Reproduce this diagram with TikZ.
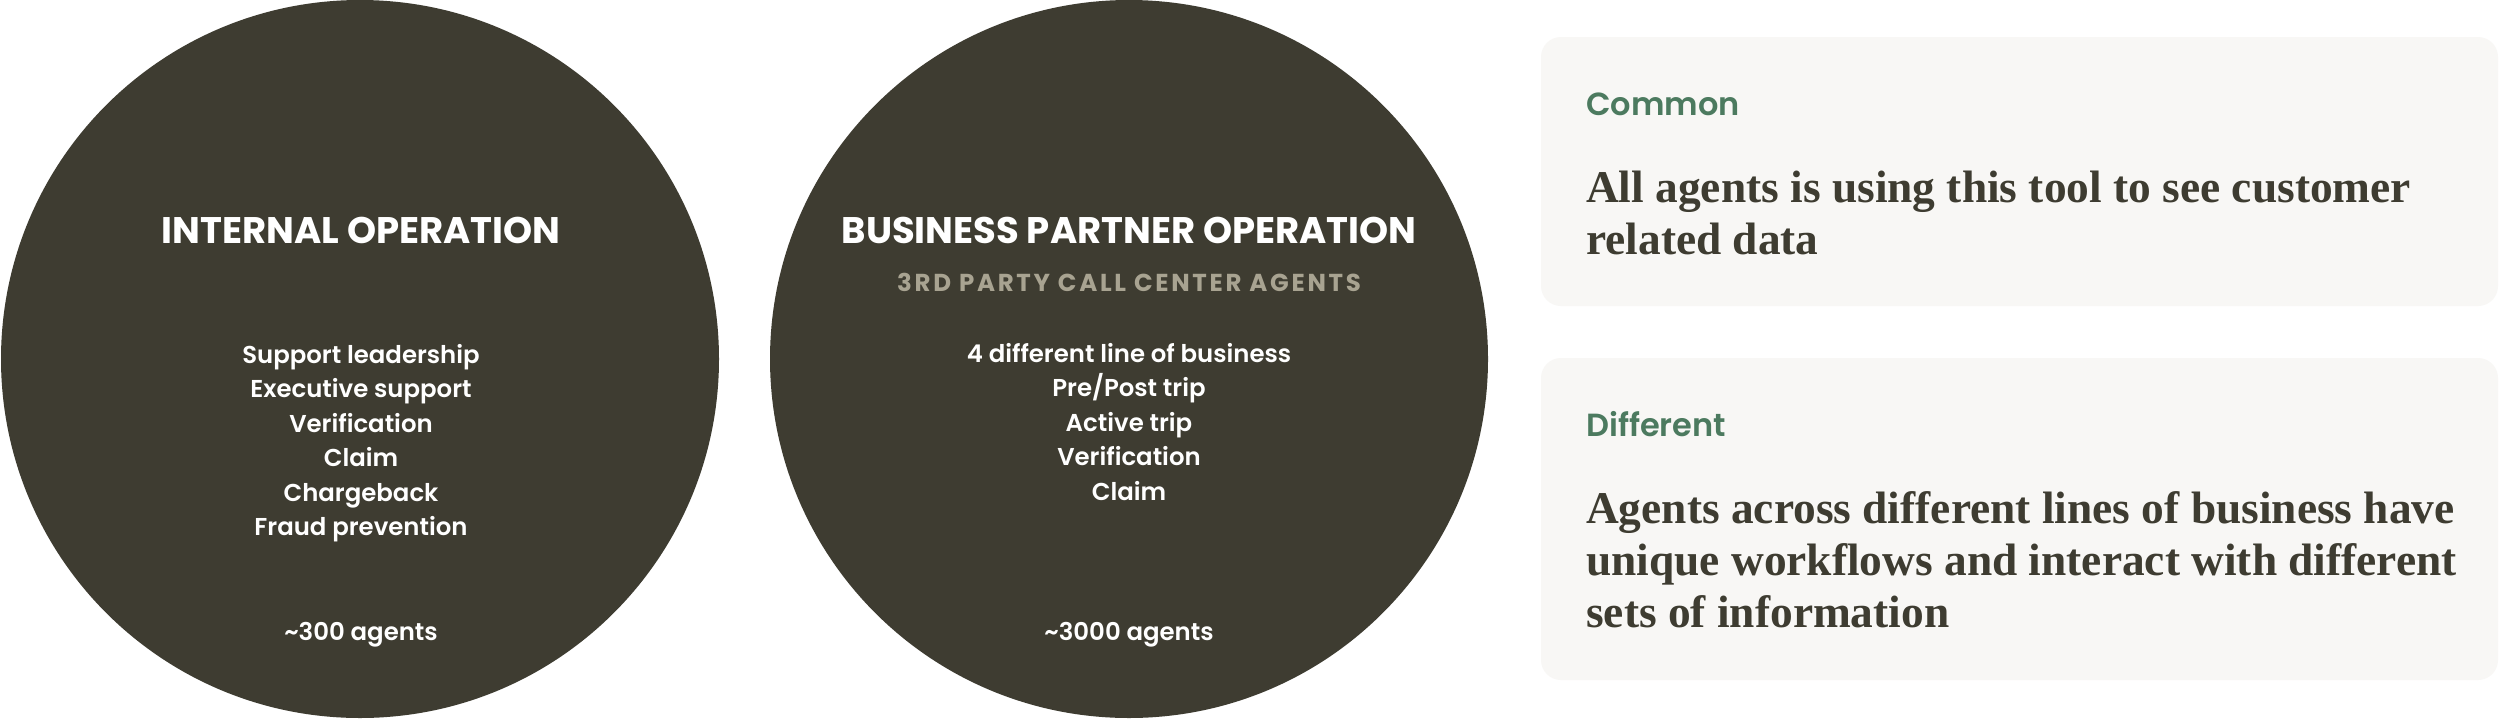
\documentclass[tikz,border=0pt]{standalone}
\usepackage{fontspec}
\setmainfont{Liberation Serif}
\newfontfamily\opsans{Poppins SemiBold}
\newfontfamily\opsansbold{Poppins Bold}
\usetikzlibrary{positioning}

\definecolor{olive}{HTML}{3E3C31}
\definecolor{sand}{HTML}{A8A391}
\definecolor{card}{HTML}{F8F7F5}
\definecolor{sage}{HTML}{4C7A5F}

\begin{document}
\begin{tikzpicture}[x=1pt,y=-1pt]
  \tikzset{
    op circle/.style={fill=olive, draw=none},
    op title/.style={
      text=white, inner sep=0pt, anchor=base,
      font=\opsansbold\fontsize{37}{37}\selectfont,
    },
    op sub/.style={
      text=sand, inner sep=0pt, anchor=base,
      font=\opsansbold\fontsize{24.5}{24.5}\selectfont\addfontfeature{LetterSpace=11},
    },
    op item/.style={
      text=white, inner sep=0pt, anchor=base,
      font=\opsans\fontsize{24.4}{24.4}\selectfont,
    },
    note card/.style={fill=card, draw=none, rounded corners=20pt},
    note head/.style={
      text=sage, inner sep=0pt, anchor=base west,
      font=\opsans\fontsize{32}{32}\selectfont,
    },
    note body/.style={
      text=olive, inner sep=0pt, anchor=north west, align=left,
      font=\bfseries\fontsize{45.4}{52}\selectfont,
    },
  }
  \fill[white] (0,0) rectangle (2500,718);
  \useasboundingbox (0,0) rectangle (2500,718);

  % the two operations
  \fill[op circle] (360,359) circle (359pt);
  \fill[op circle] (1129,359) circle (359pt);

  \node[op title] (int title) at (361,243) {INTERNAL OPERATION};
  \foreach \txt [count=\k] in {Support leadership, Executive support,
      Verification, Claim, Chargeback, Fraud prevention}
    \node[op item] (int item \k) at (361,328.5+34.5*\k) {\txt};
  \node[op item] (int count) at (361,640) {\textasciitilde300 agents};

  \node[op title] (bp title) at (1129,243) {BUSINESS PARTNER OPERATION};
  \node[op sub] (bp sub) at (1129,291) {3RD PARTY CALL CENTER AGENTS};
  \foreach \txt [count=\k] in {4 different line of business, Pre/Post trip,
      Active trip, Verification, Claim}
    \node[op item] (bp item \k) at (1129,327.5+34.6*\k) {\txt};
  \node[op item] (bp count) at (1129,640) {\textasciitilde3000 agents};

  % common / different notes
  \fill[note card] (1541,37) rectangle (2498,306);
  \fill[note card] (1541,358) rectangle (2498,680);

  \node[note head] (common) at (1586,115) {Common};
  \node[note body] (common text) at (1586,171)
    {All agents is using this tool to see customer\\related data};

  \node[note head] (different) at (1586,436) {Different};
  \node[note body] (different text) at (1586,491)
    {Agents across different lines of business have\\
     unique workflows and interact with different\\
     sets of information};
\end{tikzpicture}
\end{document}
